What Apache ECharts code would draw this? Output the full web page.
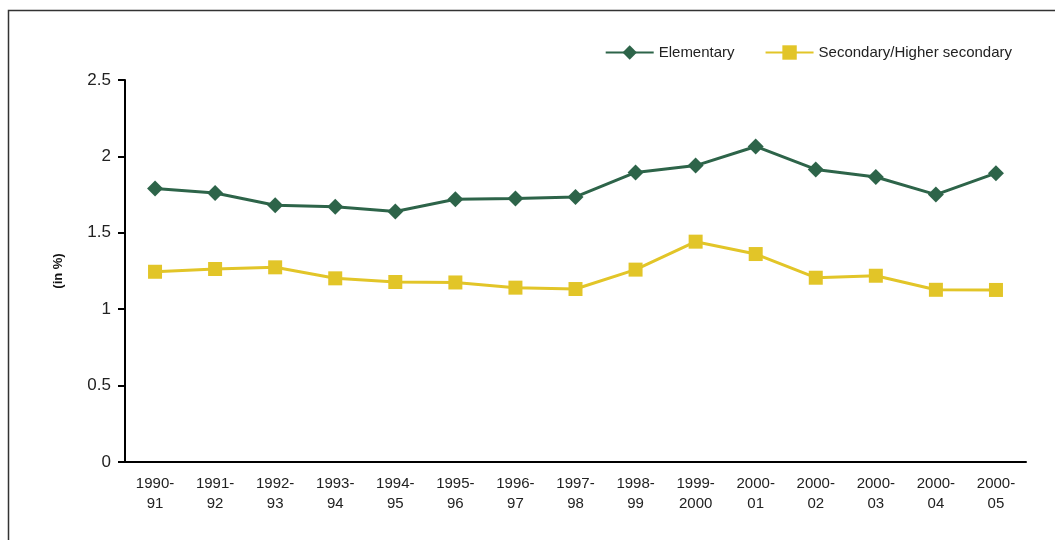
<!DOCTYPE html>
<html>
<head>
<meta charset="utf-8">
<script src="https://cdn.jsdelivr.net/npm/echarts@6/dist/echarts.min.js"></script>
<style>
  html, body { margin: 0; padding: 0; background: #fff; }
  #chart { width: 1055px; height: 540px; }
</style>
</head>
<body>
<div id="chart"></div>
<script>
const years = [
    "1990-\n91", "1991-\n92", "1992-\n93", "1993-\n94", "1994-\n95",
    "1995-\n96", "1996-\n97", "1997-\n98", "1998-\n99", "1999-\n2000",
    "2000-\n01", "2000-\n02", "2000-\n03", "2000-\n04", "2000-\n05",
];
const elementary = [
    1.79, 1.76, 1.68, 1.67, 1.64, 1.72, 1.725, 1.735, 1.895, 1.94,
    2.065, 1.915, 1.865, 1.75, 1.89,
];
const secondary = [
    1.245, 1.263, 1.274, 1.202, 1.178, 1.175, 1.141, 1.132, 1.259, 1.442,
    1.361, 1.206, 1.219, 1.127, 1.126,
];
const yTicks = [0, 0.5, 1, 1.5, 2, 2.5];

const font = "'Liberation Sans Narrow', 'Liberation Sans', Arial, sans-serif";
const colors = ["#2d6449", "#e2c528"];

const chart = echarts.init(document.getElementById("chart"));
const option = {
    color: colors,
    animation: false,
    textStyle: { fontFamily: font },
    graphic: [
        {
            type: "rect",
            shape: { x: 8.5, y: 10.5, width: 1100, height: 600 },
            style: { fill: "none", stroke: "#333", lineWidth: 1.5 },
            silent: true,
        },
    ],
    legend: {
        top: 40,
        right: 38,
        itemWidth: 48,
        itemHeight: 18,
        itemGap: 30,
        textStyle: { fontFamily: font, fontSize: 15, color: "#222" },
        data: ["Elementary", "Secondary/Higher secondary"],
    },
    grid: { left: 125, right: 29, top: 80, bottom: 78 },
    xAxis: {
        type: "category",
        data: years,
        boundaryGap: true,
        axisLine: { lineStyle: { color: "#000", width: 2 } },
        axisTick: { length: 6, lineStyle: { color: "#000", width: 2 } },
        axisLabel: {
            color: "#222",
            fontSize: 15,
            lineHeight: 20,
            margin: 12,
            fontFamily: font,
        },
    },
    yAxis: {
        type: "value",
        min: 0,
        max: 2.5,
        interval: 0.5,
        name: "(in %)",
        nameLocation: "middle",
        nameGap: 60,
        nameRotate: 90,
        nameTextStyle: {
            fontWeight: "bold",
            fontSize: 13,
            color: "#111",
            fontFamily: font,
        },
        axisLine: { show: true, lineStyle: { color: "#000", width: 2 } },
        axisTick: { show: true, length: 7, lineStyle: { color: "#000", width: 2 } },
        splitLine: { show: false },
        axisLabel: {
            color: "#222",
            fontSize: 17,
            margin: 14,
            fontFamily: font,
            formatter: (v) => (yTicks.includes(v) ? String(v) : ""),
        },
    },
    series: [
        {
            name: "Elementary",
            type: "line",
            data: elementary,
            symbol: "diamond",
            symbolSize: 16,
            lineStyle: { width: 3 },
        },
        {
            name: "Secondary/Higher secondary",
            type: "line",
            data: secondary,
            symbol: "rect",
            symbolSize: 14,
            lineStyle: { width: 3 },
        },
    ],
};
chart.setOption(option);
</script>
</body>
</html>
